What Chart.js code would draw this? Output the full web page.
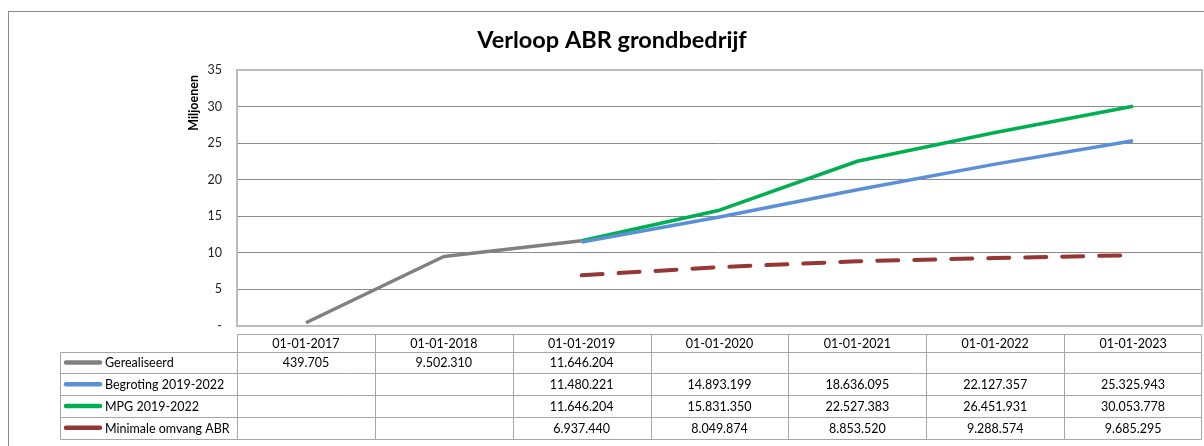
<!DOCTYPE html>
<html>
<head>
<meta charset="utf-8">
<title>Verloop ABR grondbedrijf</title>
<script src="https://cdn.jsdelivr.net/npm/chart.js@4"></script>
<style>
  body { margin: 0; background: #fff; }
  canvas { display: block; }
</style>
</head>
<body>
<canvas id="myChart" width="1204" height="446"></canvas>
<script>
var labels = [
  "01-01-2017",
  "01-01-2018",
  "01-01-2019",
  "01-01-2020",
  "01-01-2021",
  "01-01-2022",
  "01-01-2023",
];

// values in euro, as in the data table
var gerealiseerd = [439705, 9502310, 11646204, null, null, null, null];
var begroting = [null, null, 11480221, 14893199, 18636095, 22127357, 25325943];
var mpg = [null, null, 11646204, 15831350, 22527383, 26451931, 30053778];
var minimaal = [null, null, 6937440, 8049874, 8853520, 9288574, 9685295];

var seriesNames = [
  "Gerealiseerd",
  "Begroting 2019-2022",
  "MPG 2019-2022",
  "Minimale omvang ABR",
];
var seriesColors = ["#808080", "#5b8fd6", "#00b050", "#953735"];

var yTicks = [0, 5, 10, 15, 20, 25, 30, 35];

var FONT = "Lato, 'Open Sans', sans-serif";

function toMillions(arr) {
  return arr.map((v) => (v == null ? null : v / 1000000));
}

function formatNl(v) {
  if (v == null) return "";
  return String(v).replace(/\B(?=(\d{3})+(?!\d))/g, ".");
}

var frame = {
  id: "frame",
  beforeDraw: function (chart) {
    var ctx = chart.ctx;
    ctx.save();
    ctx.fillStyle = "#fff";
    ctx.fillRect(0, 0, chart.width, chart.height);
    ctx.strokeStyle = "#8a8a8a";
    ctx.lineWidth = 1;
    ctx.strokeRect(8.5, 11.5, 1300, 500);
    ctx.fillStyle = "#000";
    ctx.font = "bold 23.5px " + FONT;
    ctx.textAlign = "center";
    ctx.textBaseline = "middle";
    ctx.fillText("Verloop ABR grondbedrijf", 612, 40);
    // axis title, rotated, top aligned like Excel
    ctx.font = "bold 12.5px " + FONT;
    ctx.translate(194, 75);
    ctx.rotate(-Math.PI / 2);
    ctx.textAlign = "right";
    ctx.fillText("Miljoenen", 0, 0);
    ctx.restore();
  },
  beforeDatasetsDraw: function (chart) {
    var a = chart.chartArea;
    var ctx = chart.ctx;
    ctx.save();
    ctx.strokeStyle = "#bcbcbc";
    ctx.lineWidth = 2;
    ctx.strokeRect(a.left, a.top, a.right - a.left, a.bottom - a.top);
    ctx.restore();
  },
};

var dataTable = {
  id: "dataTable",
  afterDraw: function (chart) {
    var ctx = chart.ctx;
    var x = chart.scales.x;
    var a = chart.chartArea;
    var colW = x.getPixelForValue(1) - x.getPixelForValue(0);
    var top = 334.5;
    var headH = 17;
    var rowH = 21.75;
    var labelLeft = 60.5;
    var left = Math.round(a.left) + 0.5;
    var right = Math.round(a.right) - 0.5;
    var rows = [gerealiseerd, begroting, mpg, minimaal];
    var bottom = top + headH + rows.length * rowH;

    ctx.save();
    ctx.strokeStyle = "#a6a6a6";
    ctx.lineWidth = 1;
    ctx.beginPath();
    // header top
    ctx.moveTo(left, top);
    ctx.lineTo(right, top);
    // row lines
    for (var r = 0; r <= rows.length; r++) {
      var y = Math.round(top + headH + r * rowH) + 0.5;
      ctx.moveTo(labelLeft, y);
      ctx.lineTo(right, y);
    }
    // vertical lines
    ctx.moveTo(labelLeft, Math.round(top + headH) + 0.5);
    ctx.lineTo(labelLeft, Math.round(bottom) + 0.5);
    for (var c = 0; c <= labels.length; c++) {
      var cx = Math.round(a.left + c * colW) + 0.5;
      if (c === labels.length) cx = right;
      ctx.moveTo(cx, top);
      ctx.lineTo(cx, Math.round(bottom) + 0.5);
    }
    ctx.stroke();

    ctx.fillStyle = "#000";
    ctx.font = "12.5px " + FONT;
    ctx.textBaseline = "middle";
    ctx.textAlign = "center";
    labels.forEach(function (l, i) {
      ctx.fillText(l, x.getPixelForValue(i), top + headH / 2 + 1);
    });

    rows.forEach(function (row, r) {
      var cy = top + headH + r * rowH + rowH / 2 + 1;
      ctx.textAlign = "center";
      row.forEach(function (v, i) {
        ctx.fillText(formatNl(v), x.getPixelForValue(i), cy);
      });
      ctx.strokeStyle = seriesColors[r];
      ctx.lineWidth = 4.5;
      ctx.lineCap = "round";
      ctx.beginPath();
      ctx.moveTo(66, cy - 1);
      ctx.lineTo(100, cy - 1);
      ctx.stroke();
      ctx.textAlign = "left";
      ctx.fillText(seriesNames[r], 105, cy);
    });
    ctx.restore();
  },
};

window.onload = function () {
  var ctx = document.getElementById("myChart").getContext("2d");
  var myChart = new Chart(ctx, {
    type: "line",
    data: {
      labels: labels,
      datasets: [
        {
          label: seriesNames[0],
          data: toMillions(gerealiseerd),
          borderColor: seriesColors[0],
          borderWidth: 3.5,
        },
        {
          label: seriesNames[1],
          data: toMillions(begroting),
          borderColor: seriesColors[1],
          borderWidth: 3.5,
        },
        {
          label: seriesNames[2],
          data: toMillions(mpg),
          borderColor: seriesColors[2],
          borderWidth: 3.5,
        },
        {
          label: seriesNames[3],
          data: toMillions(minimaal),
          borderColor: seriesColors[3],
          borderWidth: 4,
          borderDash: [21, 16],
          borderCapStyle: "round",
        },
      ],
    },
    options: {
      responsive: false,
      animation: false,
      devicePixelRatio: 1,
      layout: {
        padding: { left: 180, top: 70, right: 2, bottom: 120 },
      },
      elements: {
        point: { radius: 0, hoverRadius: 0 },
        line: { tension: 0, borderJoinStyle: "round" },
      },
      plugins: {
        legend: { display: false },
        tooltip: { enabled: false },
        title: { display: false },
      },
      scales: {
        x: {
          offset: true,
          grid: { display: false },
          border: { display: false },
          ticks: { display: false },
          afterFit: function (scale) {
            scale.height = 0;
          },
        },
        y: {
          min: 0,
          max: 35,
          afterBuildTicks: function (scale) {
            scale.ticks = yTicks.map((v) => ({ value: v }));
          },
          grid: { color: "#8c8c8c", lineWidth: 1, drawTicks: false },
          border: { display: false },
          ticks: {
            padding: 15,
            color: "#222",
            font: { family: FONT, size: 12.5 },
            callback: function (v) {
              return v === 0 ? "-" : v;
            },
          },
          afterFit: function (scale) {
            scale.width = 57;
          },
        },
      },
    },
    plugins: [frame, dataTable],
  });
};
</script>
</body>
</html>
